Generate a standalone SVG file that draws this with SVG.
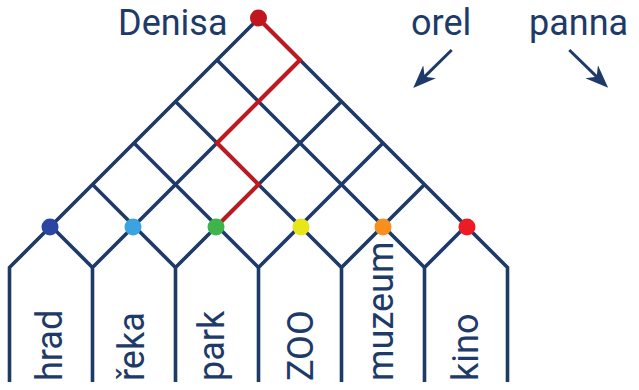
<svg xmlns="http://www.w3.org/2000/svg" width="639" height="390" viewBox="0 0 639 390">
<style>
.ln{fill:none;stroke:#1e3a68;stroke-width:3.6;stroke-linejoin:miter}
.path{fill:none;stroke:#c1181f;stroke-width:4;stroke-linejoin:miter}
.t{font-family:Roboto,"Open Sans","DejaVu Sans",sans-serif;fill:#1e3a68}
.top{font-size:36px}
.lab{font-size:36px}
.arr{fill:none;stroke:#1e3a68;stroke-width:3}
</style>
<defs>
<marker id="ah" markerUnits="userSpaceOnUse" markerWidth="24" markerHeight="20" viewBox="0 0 24 20" refX="8" refY="10" orient="auto">
<path d="M23,10 L0,1 L7,10 L0,19 Z" fill="#1e3a68"/>
</marker>
</defs>
<rect width="639" height="390" fill="#ffffff"/>
<g id="connectors">
<g id="grid">
<polyline class="ln" points="258.5,18.5 9.5,267.5 9.5,382"/>
<polyline class="ln" points="300,60 92.5,267.5 92.5,382"/>
<polyline class="ln" points="341.5,101.5 175.5,267.5 175.5,382"/>
<polyline class="ln" points="383,143 258.5,267.5 258.5,382"/>
<polyline class="ln" points="424.5,184.5 341.5,267.5 341.5,382"/>
<polyline class="ln" points="466,226 424.5,267.5 424.5,382"/>
<polyline class="ln" points="258.5,18.5 507.5,267.5 507.5,382"/>
<line class="ln" x1="217" y1="60" x2="424.5" y2="267.5"/>
<line class="ln" x1="175.5" y1="101.5" x2="341.5" y2="267.5"/>
<line class="ln" x1="134" y1="143" x2="258.5" y2="267.5"/>
<line class="ln" x1="92.5" y1="184.5" x2="175.5" y2="267.5"/>
<line class="ln" x1="51" y1="226" x2="92.5" y2="267.5"/>
</g>
<polyline id="route" class="path" points="258.5,18.5 300,60 258.5,101.5 217,143 258.5,184.5 217,226"/>
<line class="arr" x1="451.7" y1="50" x2="423.9" y2="77.4" marker-end="url(#ah)"/>
<line class="arr" x1="569.3" y1="50" x2="597.4" y2="77.4" marker-end="url(#ah)"/>
</g>
<g id="start"><circle cx="258.5" cy="18" r="8.5" fill="#c0161f"/><text class="t top" x="118" y="35">Denisa</text></g>
<g id="orel"><text class="t top" x="411" y="35">orel</text></g>
<g id="panna"><text class="t top" x="529" y="35">panna</text></g>
<g id="hrad"><circle cx="50" cy="227" r="8.5" fill="#2a45a2"/><text class="t lab" transform="translate(62,381) rotate(-90)">hrad</text></g>
<g id="reka"><circle cx="133" cy="227" r="8.5" fill="#3ba3e0"/><text class="t lab" transform="translate(144,381) rotate(-90)">řeka</text></g>
<g id="park"><circle cx="216" cy="227" r="8.5" fill="#3db54a"/><text class="t lab" transform="translate(224,381) rotate(-90)">park</text></g>
<g id="zoo"><circle cx="301" cy="227" r="8.5" fill="#e6e619"/><text class="t lab" transform="translate(313,381) rotate(-90)">ZOO</text></g>
<g id="muzeum"><circle cx="383" cy="227" r="8.5" fill="#f7901e"/><text class="t lab" transform="translate(393,381) rotate(-90)">muzeum</text></g>
<g id="kino"><circle cx="467" cy="227" r="8.5" fill="#ed1c24"/><text class="t lab" transform="translate(478,381) rotate(-90)">kino</text></g>
</svg>
